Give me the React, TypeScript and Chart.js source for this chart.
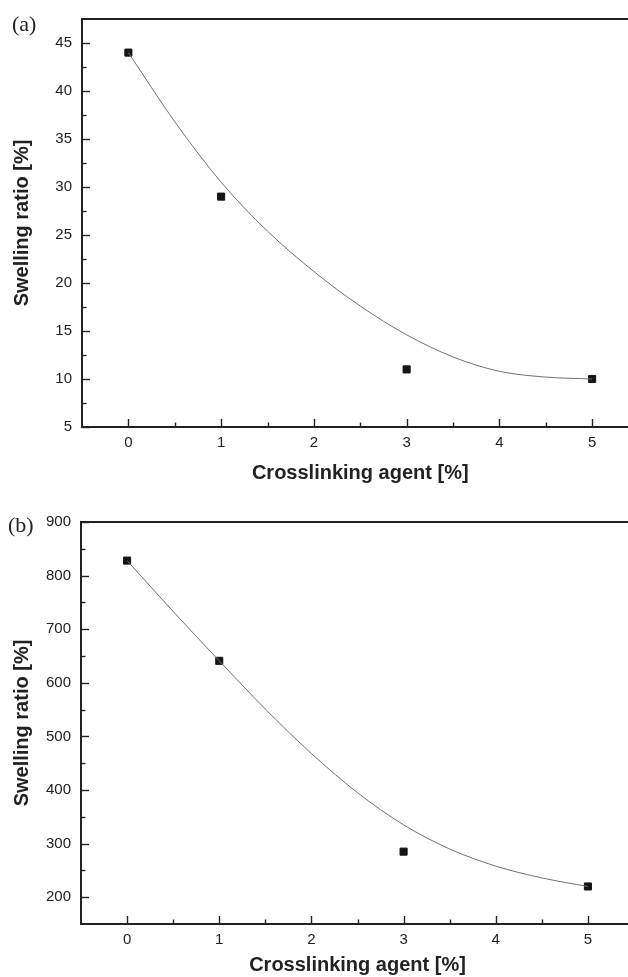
import React, { useEffect, useRef } from "react";
import { Chart, registerables } from "chart.js";

Chart.register(...registerables);

// ---- data ----
const crosslinker = [0, 1, 3, 5];
const swellingA = [44, 29, 11, 10];
const swellingB = [828, 641, 285, 220];

// fitted curve at these x positions
const fitX = [0, 0.5, 1, 1.5, 2, 2.5, 3, 3.5, 4, 4.5, 5];
const fitA = [44, 36.8, 30.5, 25.4, 21.2, 17.6, 14.6, 12.3, 10.8, 10.2, 10.0];
const fitB = [828, 733, 641, 551, 468, 395, 335, 290, 258, 236, 220];

const xTicks = [0, 1, 2, 3, 4, 5];
const xMinorTicks = [0.5, 1.5, 2.5, 3.5, 4.5];
const yTicksA = [5, 10, 15, 20, 25, 30, 35, 40, 45];
const yMinorA = [7.5, 12.5, 17.5, 22.5, 27.5, 32.5, 37.5, 42.5];
const yTicksB = [200, 300, 400, 500, 600, 700, 800, 900];
const yMinorB = [250, 350, 450, 550, 650, 750, 850];

const xTitle = "Crosslinking agent [%]";
const yTitle = "Swelling ratio [%]";

const FONT = "'Liberation Sans', Arial, Helvetica, sans-serif";
const INK = "#222";

const frameTicks = {
  id: "frameTicks",
  afterDraw(chart: any, _args: any, opts: any) {
    const { ctx, chartArea } = chart;
    const { left, right, top, bottom } = chartArea;
    const xs = chart.scales.x;
    const ys = chart.scales.y;
    ctx.save();
    ctx.strokeStyle = INK;
    // top frame line
    ctx.lineWidth = 2;
    ctx.beginPath();
    ctx.moveTo(left - 1, top);
    ctx.lineTo(right + 40, top);
    ctx.stroke();
    ctx.lineWidth = 1.4;
    const drawX = (vals: number[], len: number) => {
      vals.forEach((v) => {
        const px = Math.round(xs.getPixelForValue(v)) + 0.5;
        ctx.beginPath();
        ctx.moveTo(px, bottom);
        ctx.lineTo(px, bottom - len);
        ctx.stroke();
      });
    };
    const drawY = (vals: number[], len: number) => {
      vals.forEach((v) => {
        const py = Math.round(ys.getPixelForValue(v)) + 0.5;
        ctx.beginPath();
        ctx.moveTo(left, py);
        ctx.lineTo(left + len, py);
        ctx.stroke();
      });
    };
    drawX(opts.xMajor, 8);
    drawX(opts.xMinor, 4.5);
    drawY(opts.yMajor, 8);
    drawY(opts.yMinor, 4.5);
    ctx.restore();
  },
};

type PanelProps = {
  top: number;
  width: number;
  height: number;
  padTop: number;
  padRight: number;
  yWidth: number;
  xHeight: number;
  yMin: number;
  yMax: number;
  yTicks: number[];
  yMinor: number[];
  values: number[];
  fit: number[];
  xTitlePadBottom: number;
};

function Panel(p: PanelProps) {
  const ref = useRef<HTMLCanvasElement | null>(null);
  useEffect(() => {
    if (!ref.current) return;
    const chart = new Chart(ref.current, {
      type: "scatter",
      data: {
        datasets: [
          {
            type: "line",
            data: fitX.map((x, i) => ({ x, y: p.fit[i] })),
            borderColor: "#707070",
            borderWidth: 1,
            pointRadius: 0,
            cubicInterpolationMode: "monotone",
            fill: false,
          } as any,
          {
            type: "scatter",
            data: crosslinker.map((x, i) => ({ x, y: p.values[i] })),
            pointStyle: "rect",
            pointRadius: 5,
            backgroundColor: "#151515",
            borderColor: "#151515",
            borderWidth: 1,
            showLine: false,
          } as any,
        ],
      },
      options: {
        responsive: false,
        animation: false,
        devicePixelRatio: 1,
        layout: { padding: { top: p.padTop, right: p.padRight, left: 0, bottom: 0 } },
        plugins: {
          legend: { display: false },
          tooltip: { enabled: false },
          frameTicks: { xMajor: xTicks, xMinor: xMinorTicks, yMajor: p.yTicks, yMinor: p.yMinor },
        } as any,
        scales: {
          x: {
            type: "linear",
            min: -0.5,
            max: 5.5,
            afterBuildTicks: (s: any) => {
              s.ticks = xTicks.map((v) => ({ value: v }));
            },
            afterFit: (s: any) => {
              s.height = p.xHeight;
            },
            grid: { display: false, drawTicks: false },
            border: { display: true, color: INK, width: 2 },
            ticks: { padding: 7, color: INK, font: { family: FONT, size: 15 }, maxRotation: 0 },
            title: {
              display: true,
              text: xTitle,
              color: INK,
              font: { family: FONT, size: 20, weight: "bold" },
              padding: { top: 0, bottom: p.xTitlePadBottom },
            },
          },
          y: {
            type: "linear",
            min: p.yMin,
            max: p.yMax,
            afterBuildTicks: (s: any) => {
              s.ticks = p.yTicks.map((v) => ({ value: v }));
            },
            afterFit: (s: any) => {
              s.width = p.yWidth;
            },
            grid: { display: false, drawTicks: false },
            border: { display: true, color: INK, width: 2 },
            ticks: { padding: 10, color: INK, font: { family: FONT, size: 15 } },
            title: {
              display: true,
              text: yTitle,
              color: INK,
              font: { family: FONT, size: 20, weight: "bold" },
              padding: { top: 10, bottom: 0 },
            },
          },
        },
      },
      plugins: [frameTicks as any],
    });
    return () => chart.destroy();
  }, []);
  return (
    <canvas
      ref={ref}
      width={p.width}
      height={p.height}
      style={{ position: "absolute", left: 0, top: p.top, width: p.width, height: p.height }}
    />
  );
}

export default function App() {
  const label: React.CSSProperties = {
    position: "absolute",
    fontFamily: "'Liberation Serif', 'Times New Roman', serif",
    fontSize: 22,
    lineHeight: "22px",
    color: "#222",
  };
  return (
    <div
      style={{
        position: "fixed",
        left: 0,
        top: 0,
        width: 628,
        height: 977,
        overflow: "hidden",
        background: "#fff",
      }}
    >
      <Panel
        top={0}
        width={660}
        height={490}
        padTop={14}
        padRight={21.5}
        yWidth={82}
        xHeight={63}
        yMin={5}
        yMax={47.5}
        yTicks={yTicksA}
        yMinor={yMinorA}
        values={swellingA}
        fit={fitA}
        xTitlePadBottom={5}
      />
      <Panel
        top={490}
        width={660}
        height={487}
        padTop={32}
        padRight={26}
        yWidth={81}
        xHeight={53}
        yMin={150}
        yMax={900}
        yTicks={yTicksB}
        yMinor={yMinorB}
        values={swellingB}
        fit={fitB}
        xTitlePadBottom={0}
      />
      <span style={{ ...label, left: 12, top: 13 }}>(a)</span>
      <span style={{ ...label, left: 8, top: 514 }}>(b)</span>
    </div>
  );
}
